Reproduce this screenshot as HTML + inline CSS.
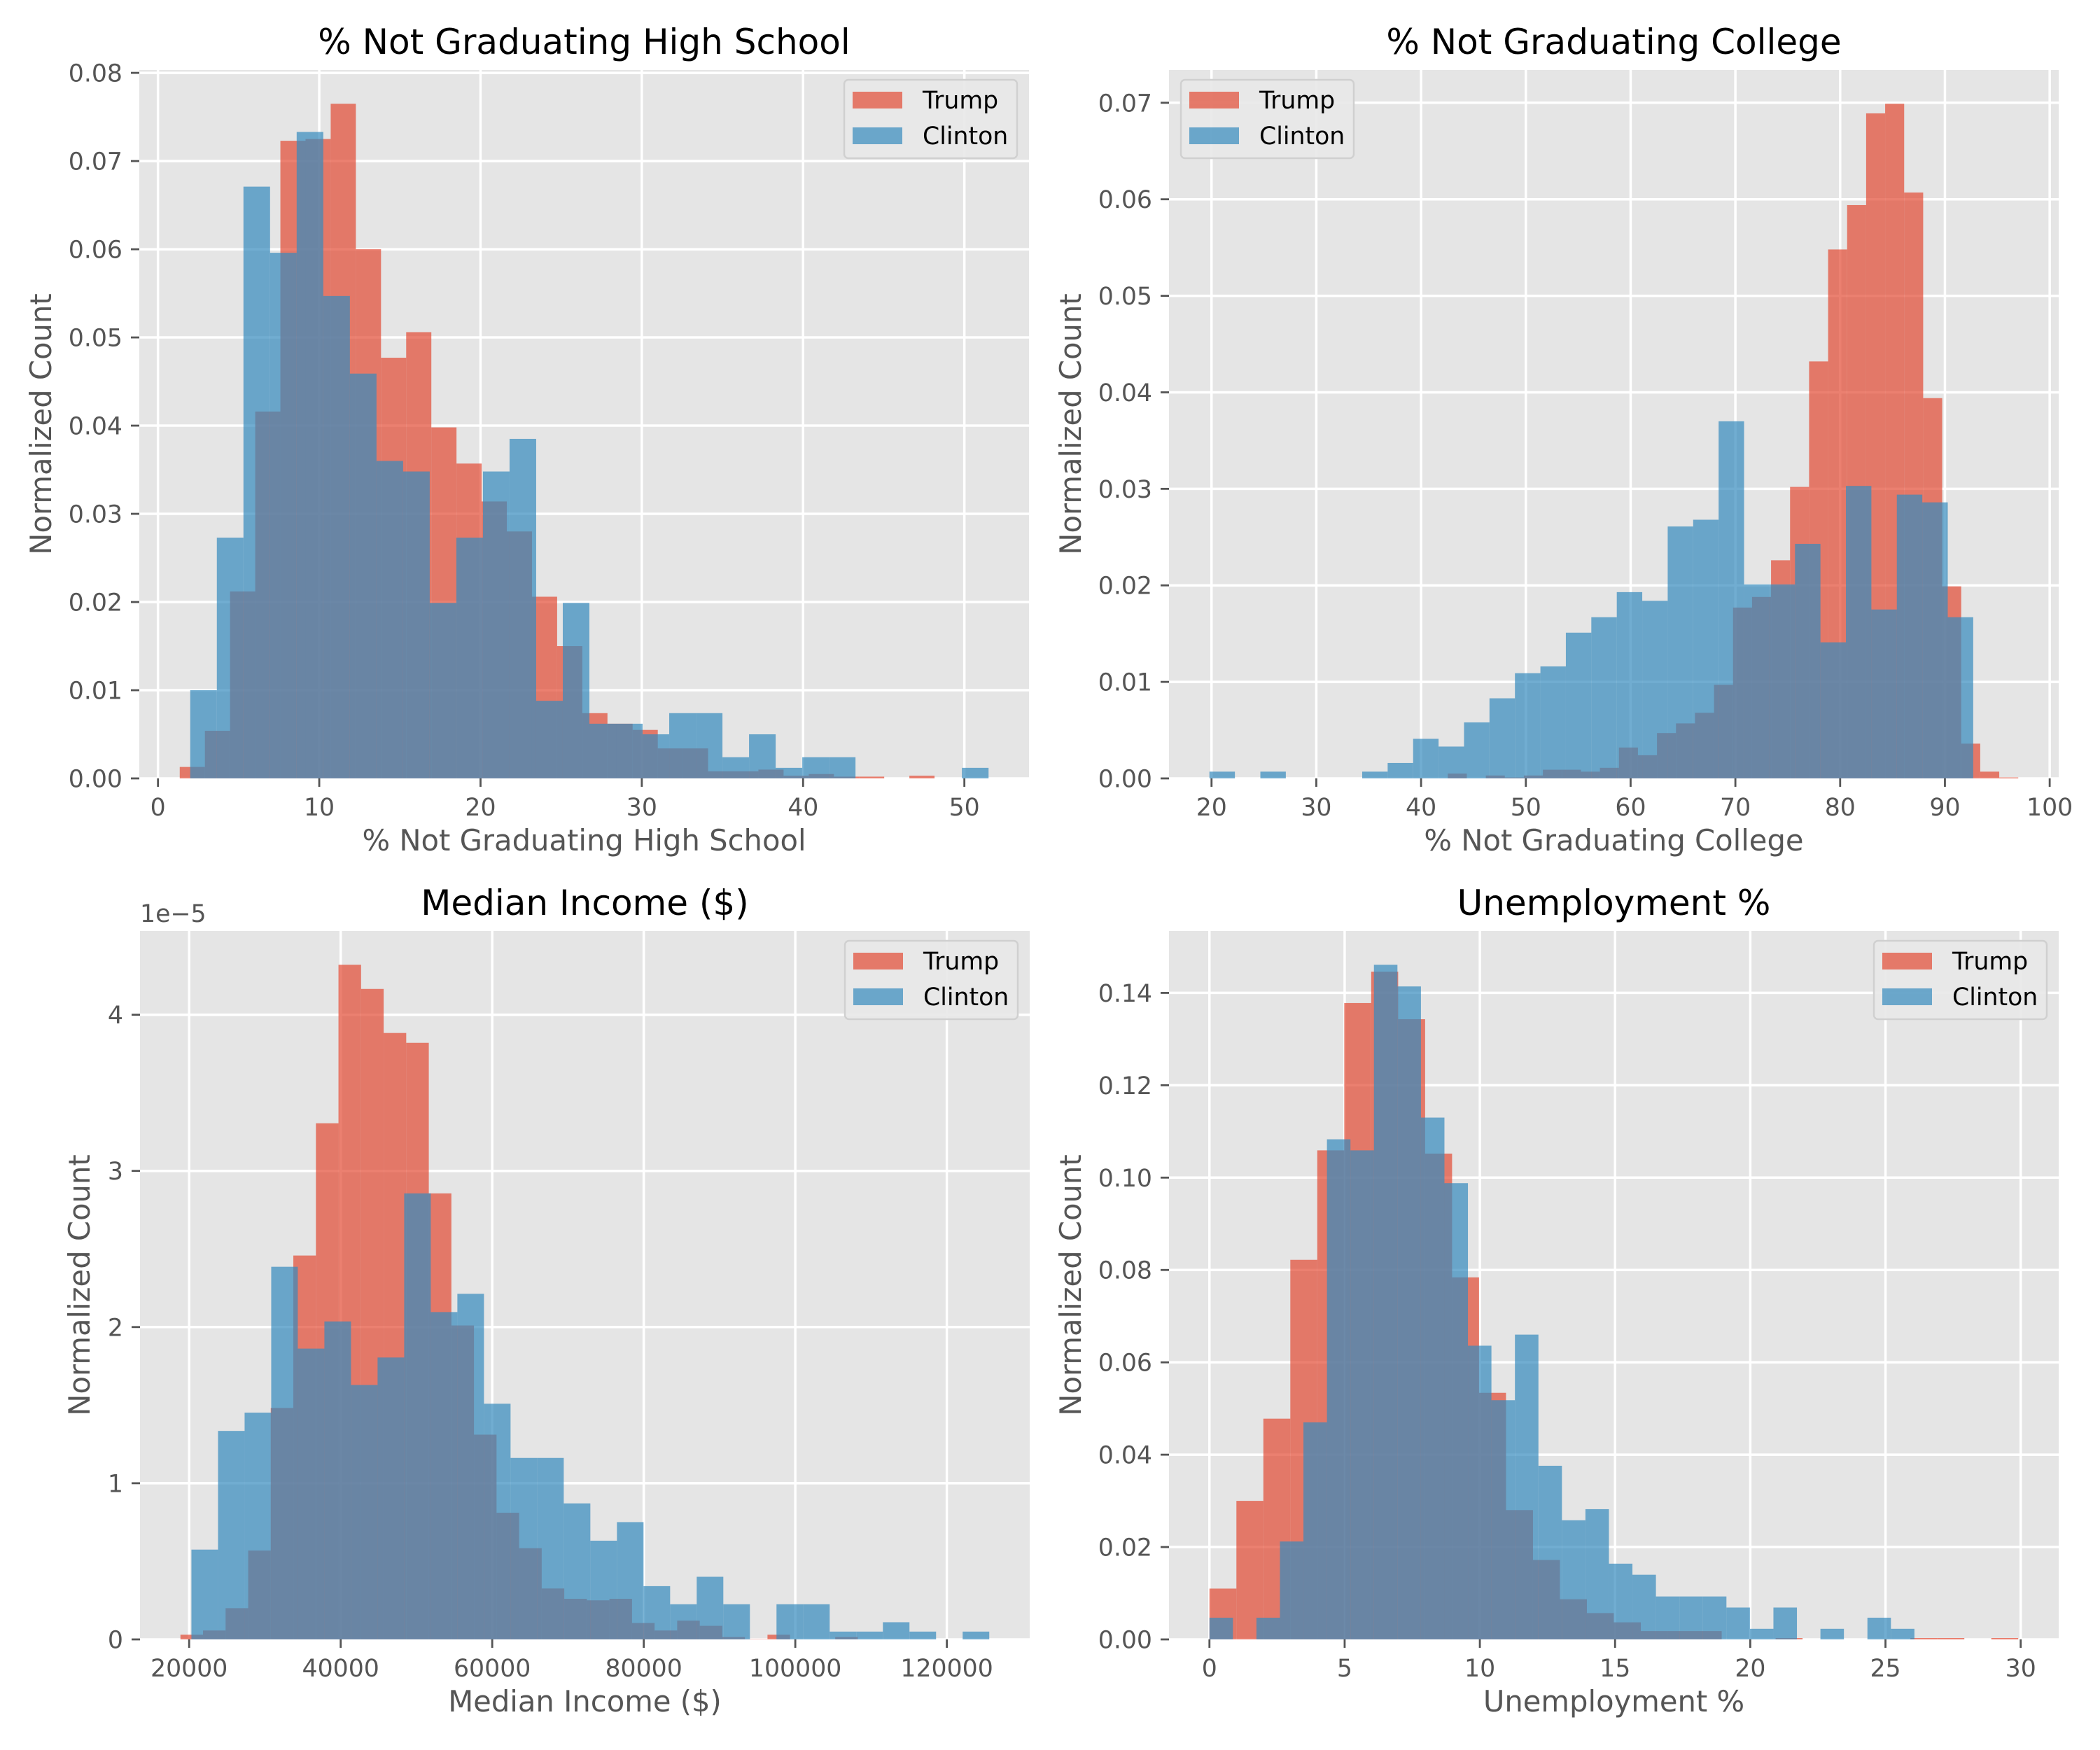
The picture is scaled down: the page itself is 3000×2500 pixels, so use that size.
<!DOCTYPE html>
<html><head><meta charset="utf-8"><style>
html,body{margin:0;padding:0;background:#fff;}
svg{display:block;font-family:"DejaVu Sans","Liberation Sans",sans-serif;}
</style></head><body>
<svg id="fig" width="3000" height="2500" viewBox="0 0 3000 2500" xmlns="http://www.w3.org/2000/svg"></svg>
<script>
// ---- Data ----
const hsTrumpStart = 1.35, hsTrumpWidth = 1.56;
const hsTrump = [0.0013,0.0054,0.0212,0.0416,0.0723,0.0725,0.0765,0.0600,0.0477,0.0506,0.0398,0.0357,0.0314,0.0280,0.0206,0.0150,0.0074,0.0062,0.0055,0.0034,0.0034,0.0008,0.0008,0.0010,0.0003,0.0005,0.0002,0.0002,0,0.0003];
const hsClintonStart = 2.0, hsClintonWidth = 1.65;
const hsClinton = [0.0100,0.0273,0.0671,0.0596,0.0733,0.0547,0.0459,0.0360,0.0348,0.0199,0.0273,0.0348,0.0385,0.0088,0.0199,0.0062,0.0062,0.0050,0.0074,0.0074,0.0024,0.0050,0.0012,0.0024,0.0024,0,0,0,0,0.0012];
const hsXTicks = [0,10,20,30,40,50];
const hsYTicks = ["0.00","0.01","0.02","0.03","0.04","0.05","0.06","0.07","0.08"];

const colTrumpStart = 42.55, colTrumpWidth = 1.815;
const colTrump = [0.0005,0,0.0003,0.0001,0.0003,0.0009,0.0009,0.0007,0.0011,0.0032,0.0024,0.0047,0.0057,0.0068,0.0097,0.0177,0.0188,0.0226,0.0302,0.0432,0.0548,0.0594,0.0689,0.0699,0.0607,0.0394,0.0199,0.0036,0.0007,0.0001];
const colClintonStart = 19.8, colClintonWidth = 2.43;
const colClinton = [0.0007,0,0.0007,0,0,0,0.0007,0.0016,0.0041,0.0033,0.0058,0.0083,0.0109,0.0116,0.0151,0.0167,0.0193,0.0184,0.0261,0.0268,0.0370,0.0201,0.0201,0.0243,0.0141,0.0303,0.0175,0.0294,0.0286,0.0167];
const colXTicks = [20,30,40,50,60,70,80,90,100];
const colYTicks = ["0.00","0.01","0.02","0.03","0.04","0.05","0.06","0.07"];

// income values in units of 1e-5
const incTrumpStart = 18850, incTrumpWidth = 2980;
const incTrump = [0.03,0.057,0.2,0.569,1.482,2.458,3.305,4.32,4.165,3.883,3.82,2.856,2.01,1.311,0.811,0.584,0.326,0.26,0.25,0.26,0.105,0.057,0.12,0.087,0.015,0.002,0.03,0,0,0.015];
const incClintonStart = 20300, incClintonWidth = 3510;
const incClinton = [0.575,1.335,1.452,2.386,1.862,2.036,1.629,1.805,2.856,2.096,2.213,1.509,1.162,1.162,0.871,0.632,0.751,0.341,0.225,0.401,0.225,0,0.225,0.225,0.05,0.05,0.11,0.05,0,0.05];
const incXTicks = [20000,40000,60000,80000,100000,120000];
const incYTicks = ["0","1","2","3","4"];

const unTrumpStart = 0, unTrumpWidth = 0.997;
const unTrump = [0.011,0.030,0.0478,0.0822,0.1059,0.1378,0.1446,0.1343,0.1052,0.0784,0.0534,0.028,0.0172,0.0087,0.0057,0.0037,0.0018,0.0018,0.0018,0,0,0.0003,0,0,0,0,0.0003,0.0003,0,0.0003];
const unClintonStart = 0, unClintonWidth = 0.869;
const unClinton = [0.0047,0,0.0047,0.0212,0.047,0.1083,0.1059,0.1461,0.1414,0.113,0.0988,0.0636,0.0518,0.066,0.0376,0.0258,0.0282,0.0164,0.014,0.0093,0.0093,0.0093,0.0069,0.0023,0.0069,0,0.0023,0,0.0047,0.0023];
const unXTicks = [0,5,10,15,20,25,30];
const unYTicks = ["0.00","0.02","0.04","0.06","0.08","0.10","0.12","0.14"];

const NS = "http://www.w3.org/2000/svg";
const svg = document.getElementById("fig");
function mk(tag, attrs, parent){
  const e = document.createElementNS(NS, tag);
  for (const k in attrs) e.setAttribute(k, attrs[k]);
  (parent||svg).appendChild(e);
  return e;
}

function panel(o){
  const g = mk("g", {});
  
  
  const L=o.left, R=o.left+1271, T=o.top, B=o.top+1012;
  const tEnd = o.tStart + o.tVals.length*o.tW, cEnd = o.cStart + o.cVals.length*o.cW;
  const xmin0 = Math.min(o.tStart,o.cStart), xmax0 = Math.max(tEnd,cEnd);
  const span = xmax0-xmin0;
  const xmin = xmin0-0.05*span, xmax = xmax0+0.05*span;
  const ymax = Math.max(...o.tVals, ...o.cVals)*1.05;
  const sx = v => L + (v-xmin)/(xmax-xmin)*(R-L);
  const sy = v => B - v/ymax*(B-T);

  const bg = mk("rect",{x:L,y:T,width:R-L,height:B-T,fill:"#E5E5E5"},g);
  
  

  // grid
  o.xTicks.forEach(v=>{
    const x=sx(v);
    const gl=mk("line",{x1:x,x2:x,y1:T,y2:B,stroke:"#fff","stroke-width":3.5},g);
    
    
  });
  o.yTicks.forEach(s=>{
    const y=sy(parseFloat(s));
    const gl=mk("line",{x1:L,x2:R,y1:y,y2:y,stroke:"#fff","stroke-width":3.5},g);
    
    
  });

  // bars
  function bars(start,w,vals,color,series){
    vals.forEach((v,i)=>{
      if(v<=0) return;
      const x0=sx(start+i*w), x1=sx(start+(i+1)*w);
      const r=mk("rect",{x:x0,y:sy(v),width:x1-x0,height:sy(0)-sy(v),fill:color,"fill-opacity":0.7},g);
      
      
    });
  }
  bars(o.tStart,o.tW,o.tVals,"#E24A33","trump");
  bars(o.cStart,o.cW,o.cVals,"#348ABD","clinton");

  // x ticks
  o.xTicks.forEach(v=>{
    const x=sx(v);
    const tk=mk("line",{x1:x,x2:x,y1:B,y2:B+12,stroke:"#555","stroke-width":2.8},g);
    
    
    const t=mk("text",{x:x,y:B+53,"text-anchor":"middle","font-size":34.7,fill:"#555"},g);
    t.textContent=String(v);
    
    
  });
  o.yTicks.forEach(s=>{
    const y=sy(parseFloat(s));
    const tk=mk("line",{x1:L-12,x2:L,y1:y,y2:y,stroke:"#555","stroke-width":2.8},g);
    
    
    const t=mk("text",{x:L-24,y:y+12.5,"text-anchor":"end","font-size":34.7,fill:"#555"},g);
    t.textContent=s;
    
    
  });

  const title=mk("text",{x:(L+R)/2,y:T-23,"text-anchor":"middle","font-size":50,fill:"#000"},g);
  title.textContent=o.title;
  
  

  const xl=mk("text",{x:(L+R)/2,y:B+103,"text-anchor":"middle","font-size":41.7,fill:"#555"},g);
  xl.textContent=o.title;
  
  

  const yx=L-o.ylabOff, yy=(T+B)/2;
  const yl=mk("text",{x:yx,y:yy,"text-anchor":"middle","font-size":41.7,fill:"#555",transform:`rotate(-90 ${yx} ${yy})`},g);
  yl.textContent="Normalized Count";
  
  

  if(o.offset){
    const ot=mk("text",{x:L,y:T-13,"font-size":34.7,fill:"#555"},g);
    ot.textContent=o.offset;
    
    
  }

  // legend
  const lw=247, lh=112;
  const lx = o.legendLeft ? L+17 : R-17-lw, ly=T+14;
  const lg=mk("g",{},g);
  
  
  mk("rect",{x:lx,y:ly,width:lw,height:lh,rx:6,fill:"#E8E8E8","fill-opacity":0.9,stroke:"#D0D0D0","stroke-width":2.5},lg);
  [["Trump","#E24A33",17],["Clinton","#348ABD",68]].forEach(([n,c,dy])=>{
    const p=mk("rect",{x:lx+12,y:ly+dy,width:71,height:24,fill:c,"fill-opacity":0.7},lg);
    
    
    const t=mk("text",{x:lx+112,y:ly+dy+24,"font-size":34.7,fill:"#000"},lg);
    t.textContent=n;
    
    
  });
}

panel({name:"high-school",left:199,top:100,title:"% Not Graduating High School",
  tStart:hsTrumpStart,tW:hsTrumpWidth,tVals:hsTrump,cStart:hsClintonStart,cW:hsClintonWidth,cVals:hsClinton,
  xTicks:hsXTicks,yTicks:hsYTicks,ylabOff:126,legendLeft:false});
panel({name:"college",left:1670,top:100,title:"% Not Graduating College",
  tStart:colTrumpStart,tW:colTrumpWidth,tVals:colTrump,cStart:colClintonStart,cW:colClintonWidth,cVals:colClinton,
  xTicks:colXTicks,yTicks:colYTicks,ylabOff:126,legendLeft:true});
panel({name:"income",left:200,top:1330,title:"Median Income ($)",
  tStart:incTrumpStart,tW:incTrumpWidth,tVals:incTrump,cStart:incClintonStart,cW:incClintonWidth,cVals:incClinton,
  xTicks:incXTicks,yTicks:incYTicks,ylabOff:72,legendLeft:false,offset:"1e\u22125"});
panel({name:"unemployment",left:1670,top:1330,title:"Unemployment %",
  tStart:unTrumpStart,tW:unTrumpWidth,tVals:unTrump,cStart:unClintonStart,cW:unClintonWidth,cVals:unClinton,
  xTicks:unXTicks,yTicks:unYTicks,ylabOff:126,legendLeft:false});
</script>
</body></html>
